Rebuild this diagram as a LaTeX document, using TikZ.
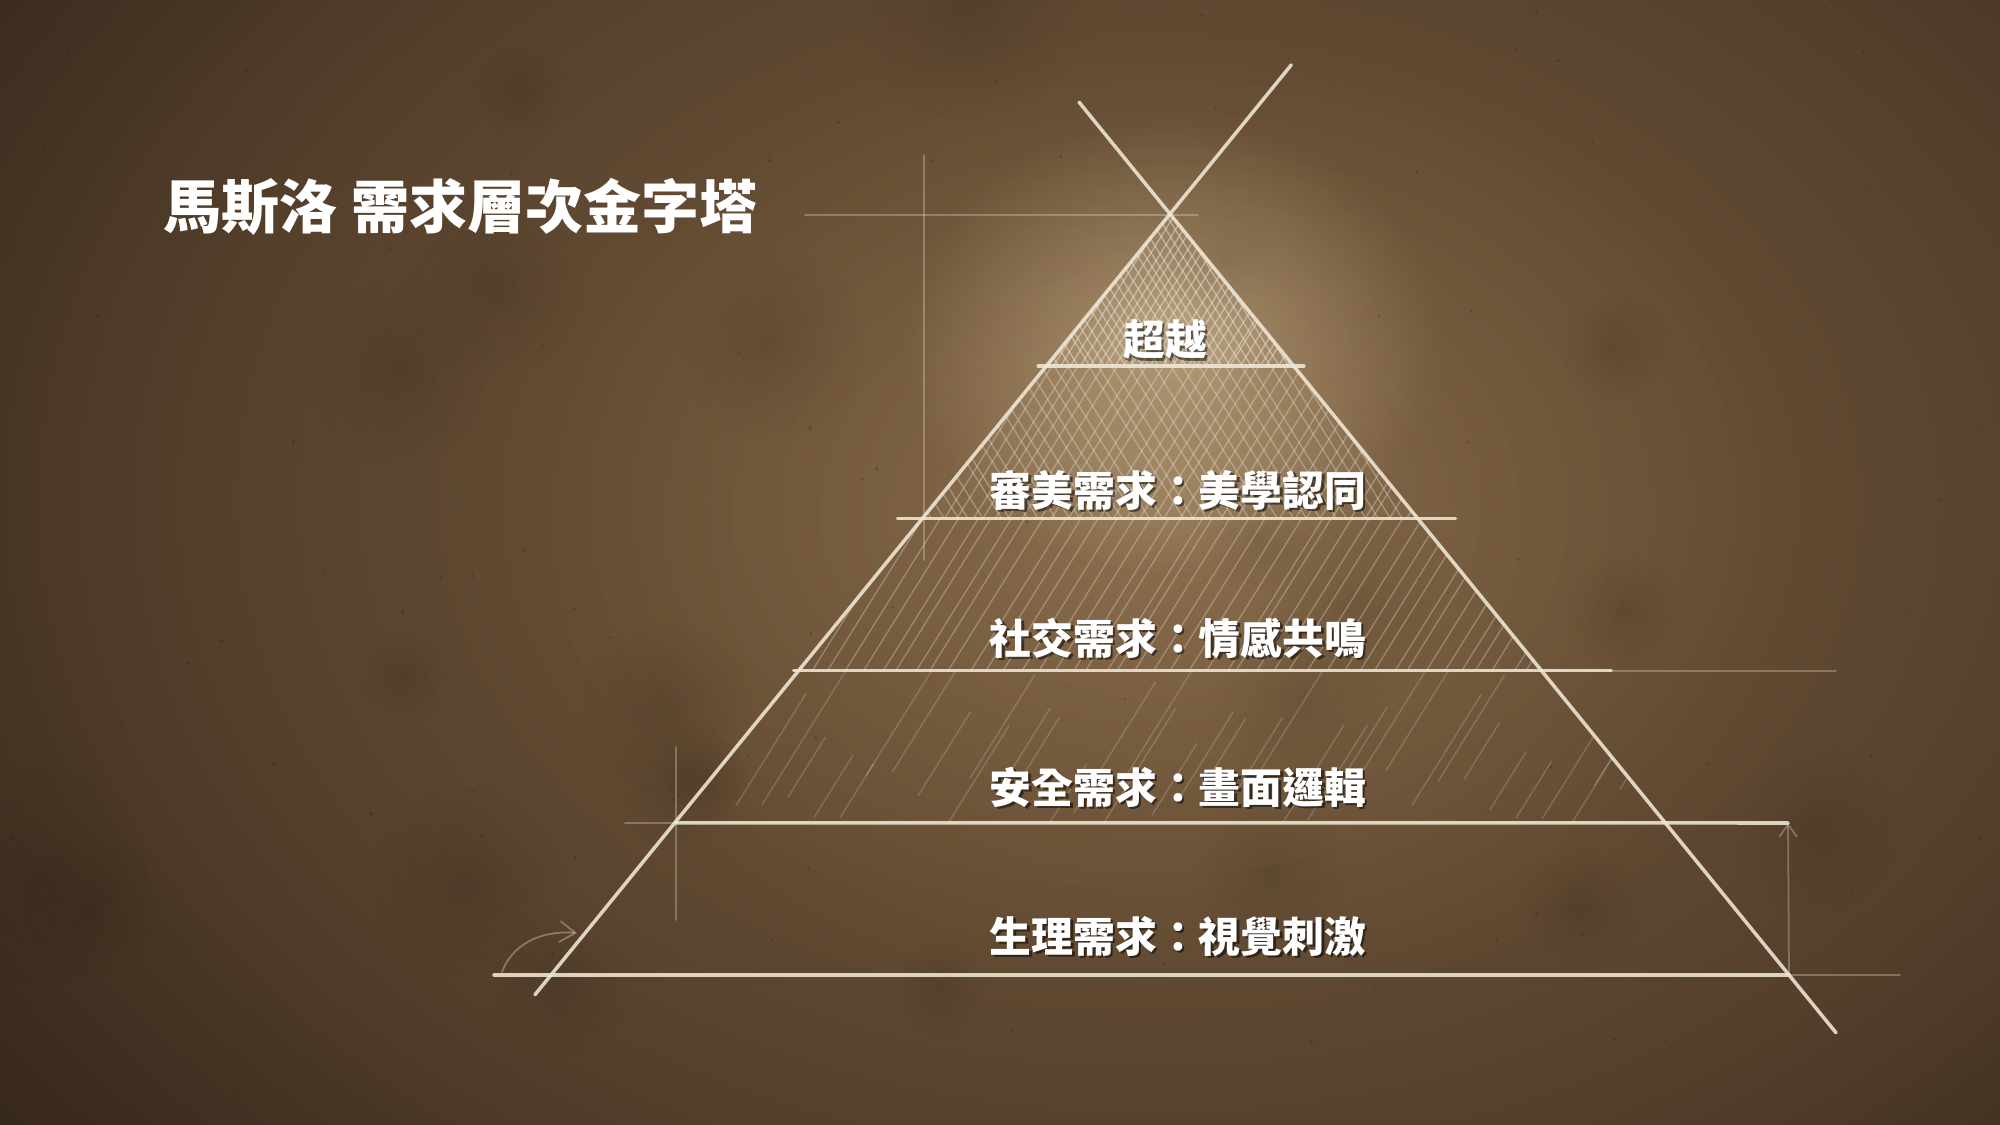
\documentclass[tikz,border=0pt]{standalone}
\usepackage{fontspec}
\newfontfamily\cjk{Noto Sans CJK TC}
\usetikzlibrary{calc,arrows.meta,fadings}

\definecolor{bgedge}{RGB}{44,32,22}
\definecolor{bgmidtwo}{RGB}{84,63,43}
\definecolor{bgmid}{RGB}{108,82,55}
\definecolor{bgcentre}{RGB}{126,97,66}
\definecolor{chalk}{RGB}{240,232,215}
\definecolor{glowtan}{RGB}{238,216,172}
\definecolor{grime}{RGB}{40,28,18}

\pgfdeclareradialshading{paper}{\pgfpointorigin}{color(0bp)=(bgcentre); color(6bp)=(bgmid); color(15bp)=(bgmidtwo); color(25bp)=(bgedge); color(50bp)=(bgedge)}
\pgfdeclareradialshading{glowfade}{\pgfpointorigin}{color(0bp)=(white); color(8bp)=(white!55!black); color(25bp)=(black); color(50bp)=(black)}
\pgfdeclarefading{softglow}{\pgfuseshading{glowfade}}

\tikzset{
    chalkline/.style={draw=chalk, line width=1pt, line cap=round, opacity=.88},
    guideline/.style={draw=chalk, line width=.5pt, line cap=round, opacity=.3},
    hatchline/.style={draw=chalk, line width=.4pt, opacity=#1},
    hatchline/.default=.35,
    leveltext/.style={font=\cjk\bfseries\fontsize{11.9pt}{14pt}\selectfont, text=white, inner sep=0pt},
    shadetext/.style={leveltext, text=black, opacity=.5},
    titletext/.style={font=\cjk\bfseries\fontsize{16.5pt}{20pt}\selectfont, text=white, inner sep=0pt},
}

\newcommand{\levellabel}[3]{%
    \node[shadetext] at ($(#2)+(2.5,2.5)$) {#3};
    \node[leveltext] (#1) at (#2) {#3};}

\begin{document}
\begin{tikzpicture}[x=0.01cm, y=-0.01cm]
                \useasboundingbox (0,0) rectangle (2000,1125);
                \begin{scope}
                    \clip (0,0) rectangle (2000,1125);
                    \fill[bgedge] (0,0) rectangle (2000,1125);
                    \shade[shading=paper] (1150,500) ellipse [x radius=1600, y radius=1150];
                    \pgfmathsetseed{11}
                    \foreach \i in {1,...,24}
                        \fill[grime, opacity=.18, path fading=softglow] ({rnd*2000},{rnd*1125}) circle ({40+rnd*90});
                    \foreach \i in {1,...,120}
                        \fill[grime, opacity=.3] ({rnd*2000},{rnd*1125}) circle ({0.8+rnd*1.2});
                \end{scope}

                \coordinate (A) at (1170,214);
                \coordinate (B) at (551,975);
                \coordinate (C) at (1789,975);
                \foreach \k in {1,2,3,4} {
                    \coordinate (b\k) at ($(A)!\k*0.2!(B)$);
                    \coordinate (c\k) at ($(A)!\k*0.2!(C)$);
                }
                \coordinate (P) at ($(A)!-0.196!(B)$);
                \coordinate (Q) at ($(A)!1.026!(B)$);
                \coordinate (R) at ($(A)!-0.147!(C)$);
                \coordinate (S) at ($(A)!1.076!(C)$);

                \fill[glowtan, opacity=.5, path fading=softglow] (1170,345) ellipse [x radius=270, y radius=230];
                \fill[glowtan, opacity=.14, path fading=softglow] (1170,520) ellipse [x radius=650, y radius=500];

                \begin{scope}
                    \clip (A) -- (b1) -- (c1) -- cycle;
                    \fill[chalk, opacity=.12] (A) -- (b1) -- (c1) -- cycle;
                    \foreach \s in {930,939,...,1300}
                        \draw[hatchline=.45] ({\s+3*rand},375) -- ++(105,-168);
                    \foreach \s in {1040,1049,...,1410}
                        \draw[hatchline=.45] ({\s+3*rand},375) -- ++(-105,-168);
                \end{scope}
                \begin{scope}
                    \clip (b1) -- (c1) -- (c2) -- (b2) -- cycle;
                    \fill[chalk, opacity=.04] (b1) -- (c1) -- (c2) -- (b2) -- cycle;
                    \foreach \s in {810,824,...,1420}
                        \draw[hatchline=.32] ({\s+4*rand},528) -- ++(106,-170);
                    \foreach \s in {920,934,...,1530}
                        \draw[hatchline=.32] ({\s+4*rand},528) -- ++(-106,-170);
                \end{scope}
                \begin{scope}
                    \clip (b2) -- (c2) -- (c3) -- (b3) -- cycle;
                    \foreach \s in {690,707,...,1545}
                        \draw[hatchline=.3] ({\s+5*rand},680) -- ++(103,-165);
                \end{scope}
                \begin{scope}
                    \clip (b3) -- (c3) -- (c4) -- (b4) -- cycle;
                    \foreach \s in {580,606,...,1670} {
                        \pgfmathsetmacro\ha{830-60*rnd}
                        \pgfmathsetmacro\hl{50+90*rnd}
                        \draw[hatchline=.2] (\s,\ha) -- ++(\hl/1.6,-\hl);
                    }
                \end{scope}

                \draw[guideline] (805,215) -- (1198,215);
                \draw[guideline] (924,155) -- (924,560);
                \draw[guideline] (676,747) -- (676,920);
                \draw[guideline] (1613,671) -- (1836,671);
                \draw[guideline] (625,823) -- (673,823);
                \draw[guideline] (1790,975) -- (1900,975);

                \draw[chalkline] (Q) -- (P);
                \draw[chalkline] (R) -- (S);
                \draw[chalkline] ($(b1)+(-8,0)$) -- ($(c1)+(10,0)$);
                \draw[chalkline] ($(b2)+(-25,0)$) -- ($(c2)+(38,0)$);
                \draw[chalkline] ($(b3)+(-5,0)$) -- ($(c3)+(70,0)$);
                \draw[chalkline] (b4) -- (1788,823);
                \draw[chalkline] (494,975) -- (C);

                \coordinate (u) at (502,972);
                \coordinate (v) at (577,933);
                \coordinate (w) at (1788,823);
                \draw[guideline, opacity=.35, -{Straight Barb[length=4.5pt, width=6pt]}] (u) .. controls (512,945) and (540,930) .. (v);
                \draw[guideline, -{Straight Barb[length=3.5pt, width=5pt]}] (C) -- (w);

                \node[titletext, anchor=west] (title) at (163,207) {馬斯洛 需求層次金字塔};

                \levellabel{l5}{1165,340}{超越}
                \levellabel{l4}{1178,490}{審美需求：美學認同}
                \levellabel{l3}{1178,638}{社交需求：情感共鳴}
                \levellabel{l2}{1178,787}{安全需求：畫面邏輯}
                \levellabel{l1}{1178,936}{生理需求：視覺刺激}
\end{tikzpicture}
\end{document}
